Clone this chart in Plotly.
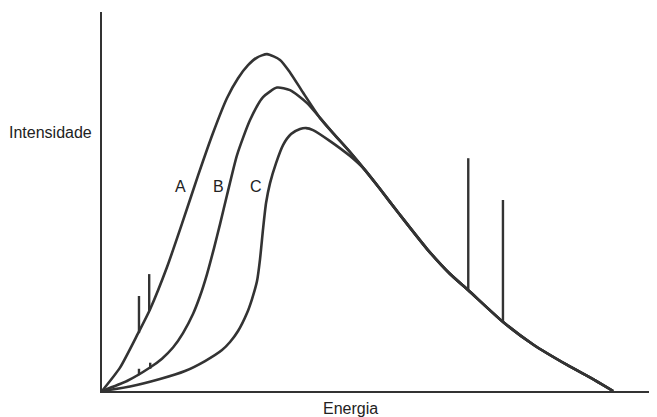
import plotly.graph_objects as go

# Continuum curves (arbitrary units: energy 0-100, intensity 0-100 at peak of A)
energy_A = [0, 3.53, 7.06, 9.41, 12.75, 15.88, 18.82, 21.76, 24.51, 26.67, 28.63, 30.39, 32.35, 34.90, 36.86, 39.41, 42.75]
intensity_A = [0, 6.94, 17.09, 24.21, 36.80, 50.56, 63.92, 76.59, 86.98, 92.85, 96.71, 98.99, 100.0, 98.28, 94.57, 88.58, 81.01]

energy_B = [0, 4.90, 9.41, 11.76, 13.92, 15.88, 17.84, 19.22, 20.59, 21.96, 23.14, 24.51, 26.47, 29.02, 31.57, 34.31, 36.86, 40.20, 43.0]
intensity_B = [0, 2.97, 6.97, 9.60, 12.90, 17.20, 22.85, 28.19, 34.72, 42.43, 49.55, 58.16, 70.03, 80.42, 87.24, 90.06, 89.32, 85.46, 80.6]

energy_C = [0, 5.49, 11.37, 16.27, 20.20, 23.53, 25.10, 26.67, 28.43, 29.41, 30.39, 30.98, 31.57, 32.16, 32.94, 34.12, 35.49, 37.06, 38.82, 40.00, 41.37, 44.71, 48.63]
intensity_C = [0, 1.34, 3.56, 5.93, 8.90, 12.17, 14.54, 17.80, 23.15, 27.30, 32.64, 39.17, 48.07, 55.79, 61.72, 67.66, 73.00, 76.26, 77.74, 78.04, 77.45, 74.18, 69.73]

# Common high-energy tail shared by all three spectra
energy_tail = [45.29, 48.63, 51.57, 54.51, 58.43, 63.73, 68.24, 71.76, 78.63, 84.51, 91.18, 96.67, 100.2]
intensity_tail = [76.56, 70.92, 65.58, 59.94, 52.23, 42.14, 34.72, 29.97, 20.47, 13.80, 7.72, 3.18, 0]

# Characteristic lines
lines_A_energy = [7.25, 9.25]
lines_A_bottom = [17.2, 23.8]
lines_A_top = [28.2, 34.7]
lines_B_energy = [7.25, 9.45]
lines_B_bottom = [4.7, 6.6]
lines_B_top = [6.6, 8.4]
lines_tail_energy = [71.8, 78.6]
lines_tail_bottom = [30.0, 20.5]
lines_tail_top = [69.1, 56.7]

curve_labels = ["A", "B", "C"]
label_x = [15.3, 22.8, 30.2]
label_y = [60.8, 60.8, 60.8]

ink = "#333333"
fig = go.Figure()

tail_C = [(e, i) for e, i in zip(energy_tail, intensity_tail) if e > energy_C[-1] + 2]
series = [
    (energy_A + energy_tail, intensity_A + intensity_tail),
    (energy_B + energy_tail, intensity_B + intensity_tail),
    (energy_C + [p[0] for p in tail_C], intensity_C + [p[1] for p in tail_C]),
]
for xs, ys in series:
    fig.add_trace(go.Scatter(x=xs, y=ys, mode="lines",
                             line=dict(color=ink, width=2.6, shape="spline", smoothing=0.6),
                             hoverinfo="skip", showlegend=False))

for en, bo, to in [(lines_A_energy, lines_A_bottom, lines_A_top),
                   (lines_B_energy, lines_B_bottom, lines_B_top),
                   (lines_tail_energy, lines_tail_bottom, lines_tail_top)]:
    xs, ys = [], []
    for e, b, t in zip(en, bo, to):
        xs += [e, e, None]
        ys += [b, t, None]
    fig.add_trace(go.Scatter(x=xs, y=ys, mode="lines",
                             line=dict(color=ink, width=2.4),
                             hoverinfo="skip", showlegend=False))

font = dict(family="Liberation Sans, Arial", size=16, color="#222")
for t, x, y in zip(curve_labels, label_x, label_y):
    fig.add_annotation(x=x, y=y, text=t, showarrow=False, font=font)

fig.add_annotation(xref="paper", yref="paper", x=-0.092, y=0.683, text="Intensidade",
                   xanchor="center", yanchor="middle", showarrow=False, font=font)
fig.add_annotation(xref="paper", yref="paper", x=0.447, y=-0.045, text="Energia",
                   xanchor="center", yanchor="middle", showarrow=False, font=font)

fig.update_xaxes(range=[0, 108.8], showline=True, linecolor=ink, linewidth=2,
                 showgrid=False, zeroline=False, showticklabels=False, ticks="")
fig.update_yaxes(range=[0, 112.5], showline=True, linecolor=ink, linewidth=2,
                 showgrid=False, zeroline=False, showticklabels=False, ticks="")
# page body has an 8px margin, so the figure is sized/offset to compensate
fig.update_layout(width=649, height=409, margin=dict(l=94, r=0, t=4, b=26),
                  paper_bgcolor="white", plot_bgcolor="white")

fig.write_html("out.html")
